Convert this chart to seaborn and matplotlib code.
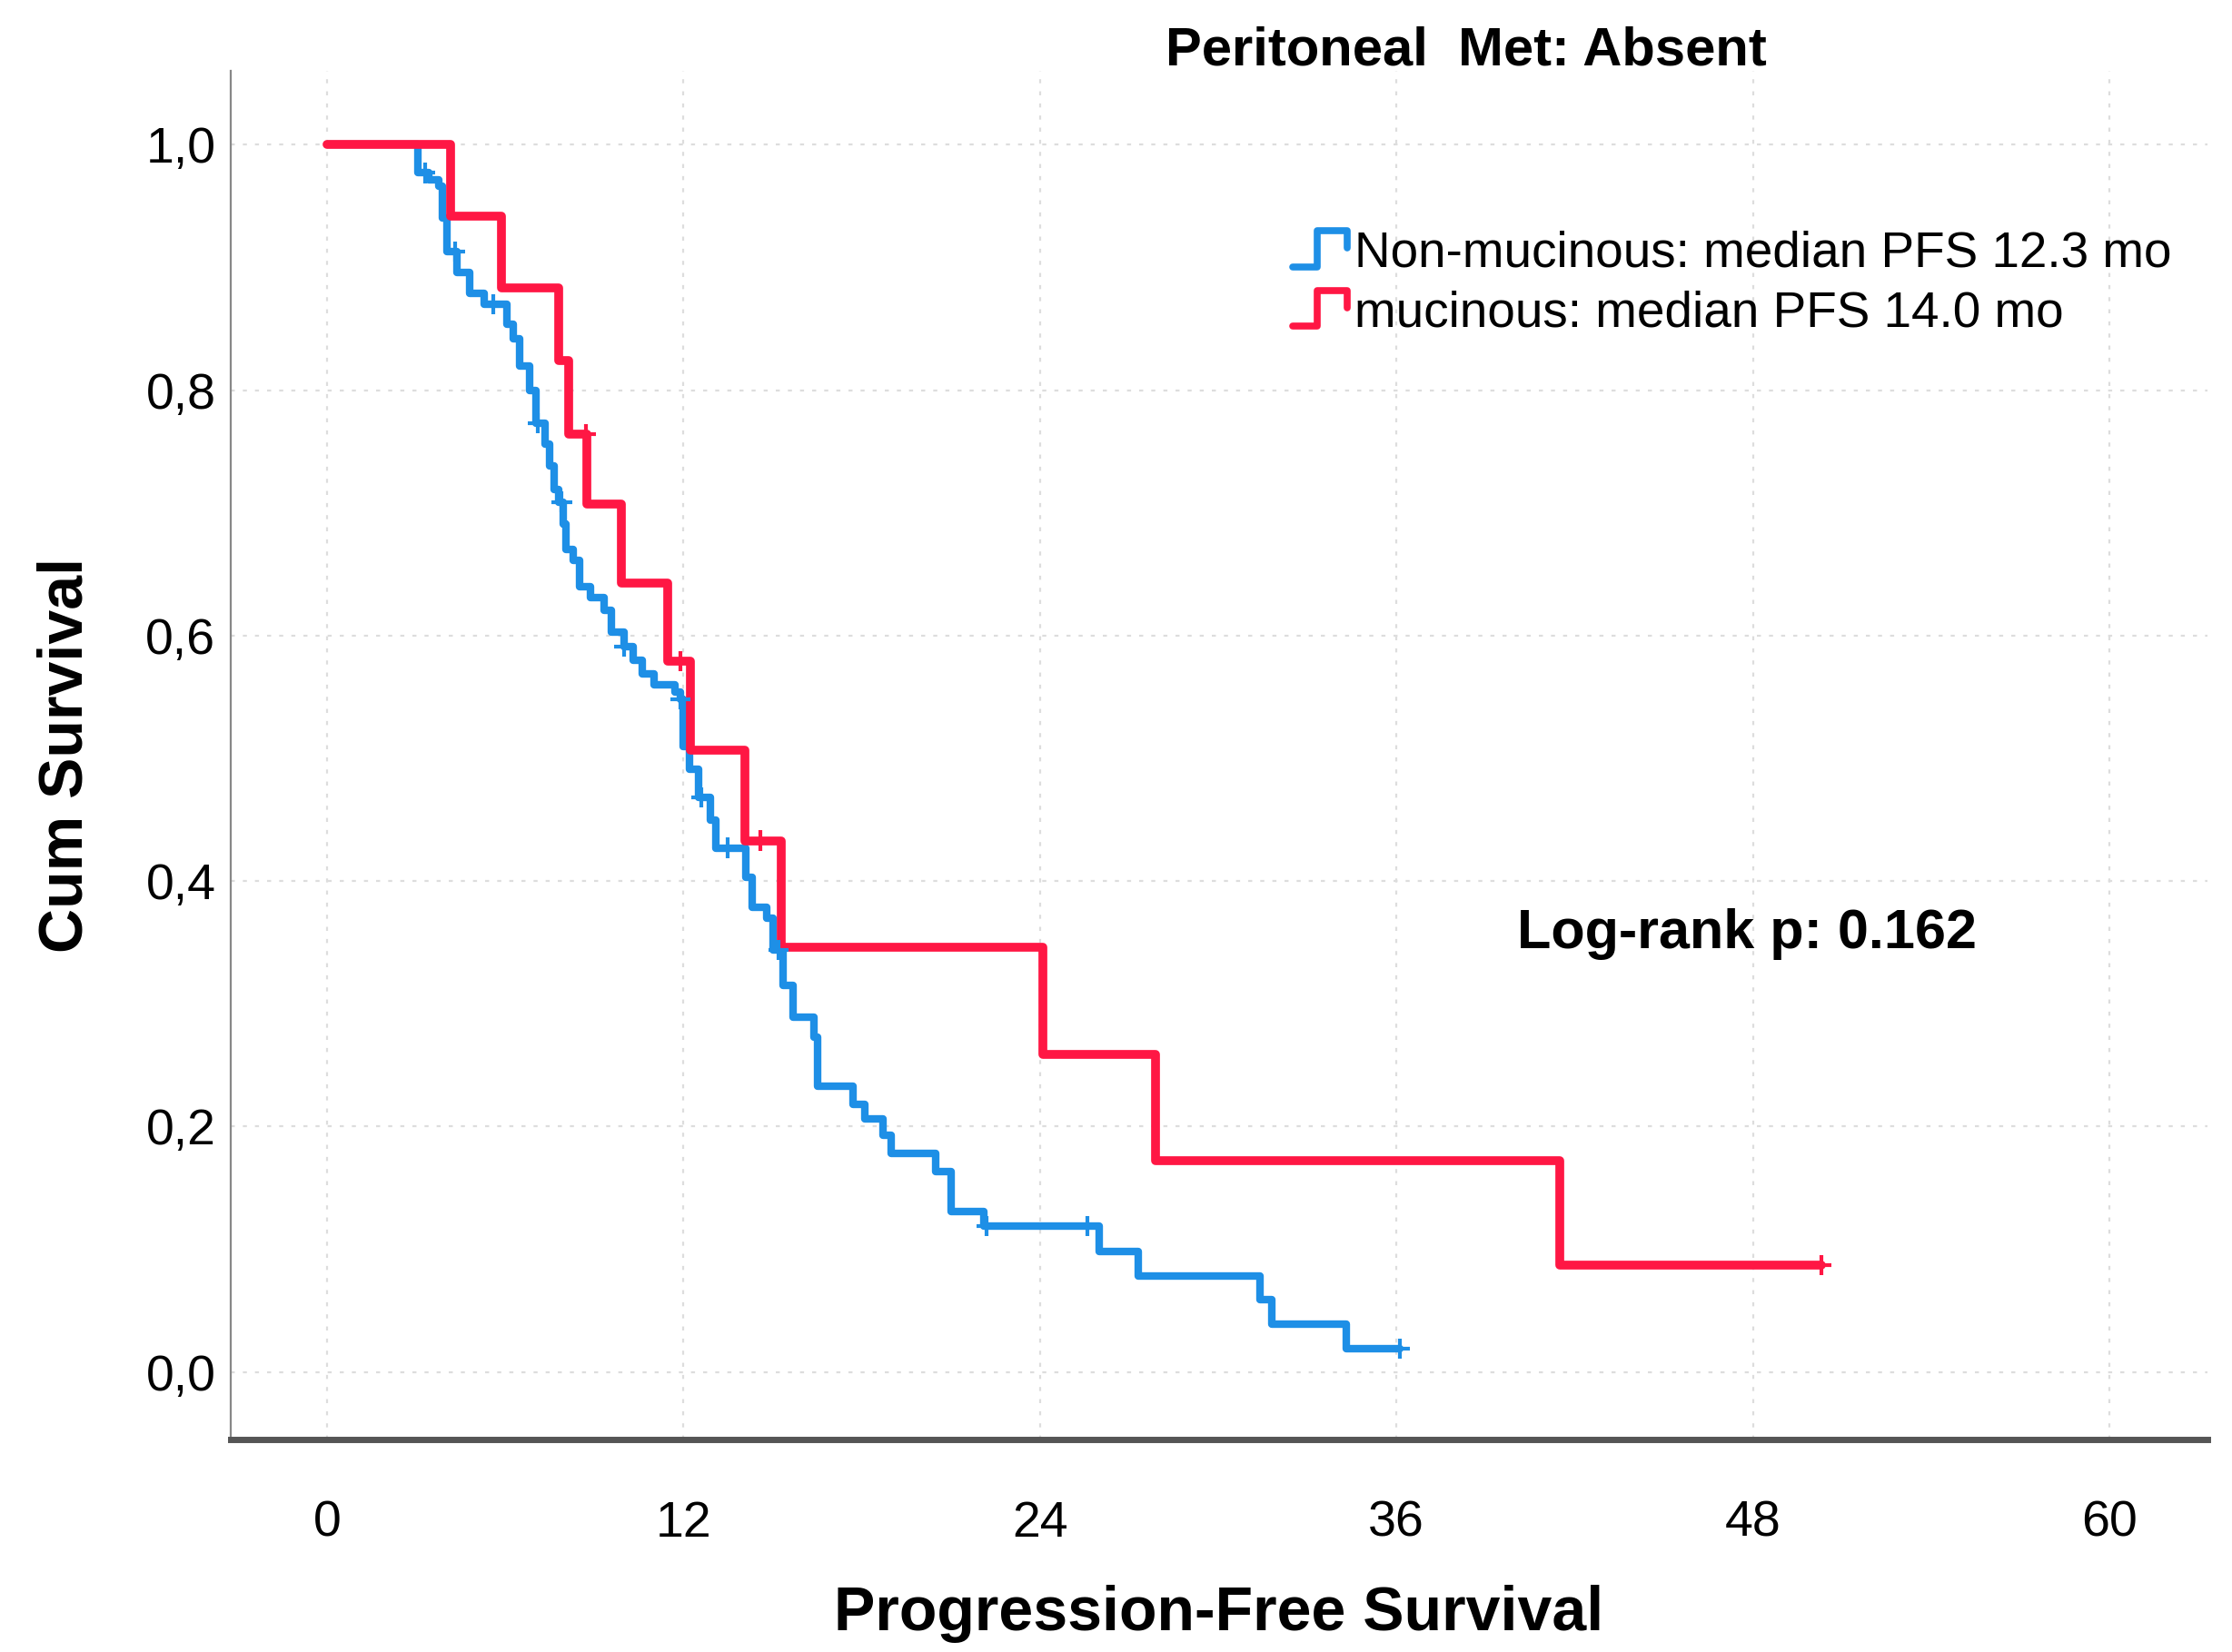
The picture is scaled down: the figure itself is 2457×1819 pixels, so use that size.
import numpy as np
import pandas as pd
import matplotlib
matplotlib.use("Agg")
import matplotlib.pyplot as plt
import seaborn as sns
from matplotlib.legend_handler import HandlerBase
from matplotlib.lines import Line2D

# Kaplan-Meier step values (months, survival after event)
blue_time = [0, 3.06, 3.41, 3.77, 3.87, 4.03, 4.38, 4.79, 5.30, 6.06, 6.27, 6.47, 6.82,
             7.03, 7.34, 7.49, 7.65, 7.80, 7.95, 8.05, 8.30, 8.50, 8.87, 9.33, 9.57,
             10.0, 10.3, 10.6, 11.0, 11.7, 11.9, 12.0, 12.2, 12.5, 12.9, 13.1, 14.1,
             14.3, 14.8, 15.0, 15.35, 15.7, 16.4, 16.5, 17.7, 18.1, 18.7, 19.0, 20.5,
             21.0, 22.1, 26.0, 27.3, 31.4, 31.8, 34.3, 36.1]
blue_surv = [1.0, 0.977, 0.971, 0.966, 0.940, 0.913, 0.896, 0.879, 0.870, 0.854, 0.842,
             0.820, 0.800, 0.773, 0.756, 0.738, 0.719, 0.709, 0.691, 0.670, 0.661, 0.640,
             0.631, 0.621, 0.603, 0.591, 0.580, 0.569, 0.560, 0.554, 0.548, 0.510, 0.491,
             0.468, 0.450, 0.427, 0.403, 0.379, 0.370, 0.344, 0.315, 0.289, 0.273, 0.233,
             0.218, 0.206, 0.193, 0.178, 0.163, 0.131, 0.119, 0.098, 0.078, 0.059, 0.039,
             0.019, 0.019]
blue_censor = [3.3, 4.3, 5.6, 7.1, 7.9, 10.0, 11.9, 12.6, 13.5, 15.2, 22.2, 25.6, 36.1]

red_time = [0, 4.17, 5.87, 7.79, 8.13, 8.75, 9.9, 11.48, 12.22, 14.08, 15.28, 24.1,
            27.9, 41.5, 50.3]
red_surv = [1.0, 0.942, 0.883, 0.824, 0.764, 0.707, 0.643, 0.579, 0.507, 0.433, 0.346,
            0.259, 0.172, 0.087, 0.087]
red_censor = [8.7, 11.9, 14.6, 50.3]

groups = ["Non-mucinous: median PFS 12.3 mo", "mucinous: median PFS 14.0 mo"]
colors = ["#1E8FE6", "#FF1744"]

xticks = [0, 12, 24, 36, 48, 60]
yticks = [0.0, 0.2, 0.4, 0.6, 0.8, 1.0]
ytick_labels = ["0,0", "0,2", "0,4", "0,6", "0,8", "1,0"]


def surv_at(times, survs, t):
    idx = np.searchsorted(times, t, side="right") - 1
    return survs[idx]


curves = pd.concat([
    pd.DataFrame({"time": blue_time, "surv": blue_surv, "group": groups[0]}),
    pd.DataFrame({"time": red_time, "surv": red_surv, "group": groups[1]}),
])
censors = pd.concat([
    pd.DataFrame({"time": blue_censor,
                  "surv": [surv_at(blue_time, blue_surv, t) for t in blue_censor],
                  "group": groups[0]}),
    pd.DataFrame({"time": red_censor,
                  "surv": [surv_at(red_time, red_surv, t) for t in red_censor],
                  "group": groups[1]}),
])

sns.set_theme(style="white")
plt.rcParams["font.family"] = ["Liberation Sans", "DejaVu Sans"]
plt.rcParams["text.color"] = "black"
plt.rcParams["axes.labelcolor"] = "black"
plt.rcParams["xtick.color"] = "black"
plt.rcParams["ytick.color"] = "black"

fig = plt.figure(figsize=(24.57, 18.19), dpi=100)
ax = fig.add_axes([0.1034, 0.1286, 0.8856, 0.8284])

palette = dict(zip(groups, colors))
for g, lw in zip(groups, [6, 7]):
    sub = curves[curves["group"] == g]
    sns.lineplot(data=sub, x="time", y="surv", color=palette[g], lw=lw,
                 drawstyle="steps-post", estimator=None, sort=False, ax=ax,
                 legend=False)
sns.scatterplot(data=censors, x="time", y="surv", hue="group", palette=palette,
                marker="+", s=260, linewidth=3, ax=ax, legend=False, zorder=5)

ax.set_xlim(-3.24, 63.3)
ax.set_ylim(-0.055, 1.06)
ax.set_xticks(xticks)
ax.set_xticklabels([str(t) for t in xticks], fontsize=40)
ax.set_yticks(yticks)
ax.set_yticklabels(ytick_labels, fontsize=40)
ax.tick_params(axis="x", length=0, pad=48)
ax.tick_params(axis="y", length=0, pad=12)
ax.grid(True, linestyle=(0, (2, 4)), color="#dddddd", linewidth=1.6)

for s in ["top", "right"]:
    ax.spines[s].set_visible(False)
ax.spines["bottom"].set_color("#555555")
ax.spines["bottom"].set_linewidth(5)
ax.spines["left"].set_color("#888888")
ax.spines["left"].set_linewidth(1.6)

ax.set_xlabel("Progression-Free Survival", fontsize=49, fontweight="bold", labelpad=30)
ax.set_ylabel("Cum Survival", fontsize=49, fontweight="bold", labelpad=40)

fig.text(0.657, 0.969, "Peritoneal  Met: Absent", fontsize=43, fontweight="bold",
         ha="center", va="center")
ax.text(40.06, 0.357, "Log-rank p: 0.162", fontsize=44, fontweight="bold",
        ha="left", va="center")


class StepHandler(HandlerBase):
    def create_artists(self, legend, orig_handle, xdescent, ydescent, width, height,
                       fontsize, trans):
        xs = np.array([0, 0.45, 0.45, 1.0, 1.0]) * width - xdescent
        ys = np.array([0.05, 0.05, 1.0, 1.0, 0.55]) * height - ydescent
        line = Line2D(xs, ys, color=orig_handle.get_color(),
                      lw=orig_handle.get_linewidth(), transform=trans)
        return [line]


handles = [Line2D([], [], color=c, lw=5.5) for c in colors]
ax.legend(handles, groups, loc="upper left", bbox_to_anchor=(0.527, 0.898),
          frameon=False, fontsize=39.5, handler_map={Line2D: StepHandler()},
          handlelength=1.1, handleheight=0.8, handletextpad=0.15, labelspacing=0.25,
          borderaxespad=0)

fig.savefig("out.png", dpi=100)
